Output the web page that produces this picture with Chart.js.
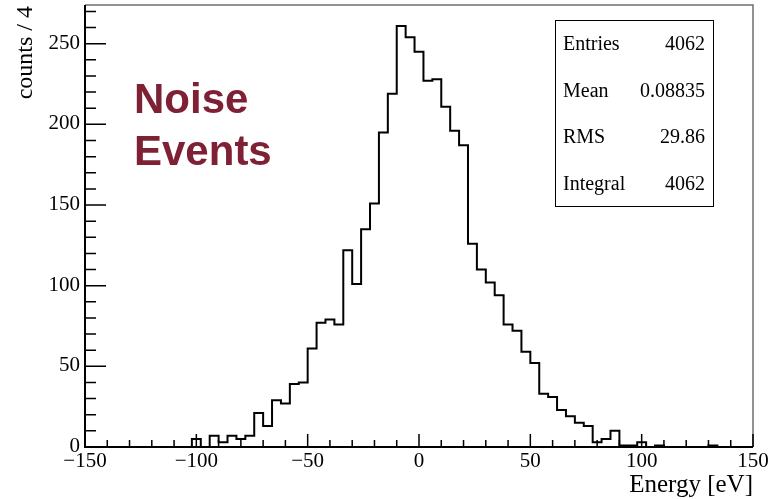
<!DOCTYPE html>
<html>
<head>
<meta charset="utf-8">
<script src="https://cdn.jsdelivr.net/npm/chart.js@4.4.1/dist/chart.umd.min.js"></script>
<style>
  html, body { margin: 0; padding: 0; background: #ffffff; }
  #wrap { width: 769px; height: 499px; position: relative; }
</style>
</head>
<body>
<div id="wrap"><canvas id="c" width="769" height="499"></canvas></div>
<script>
// ---- data (bin width 4 eV) ----
const binEdges = [
  -150,-146,-142,-138,-134,-130,-126,-122,-118,-114,-110,-106,-102,-98,-94,-90,-86,-82,-78,-74,
  -70,-66,-62,-58,-54,-50,-46,-42,-38,-34,-30,-26,-22,-18,-14,-10,-6,-2,2,6,
  10,14,18,22,26,30,34,38,42,46,50,54,58,62,66,70,74,78,82,86,
  90,94,98,102,106,110,114,118,122,126,130,134,138,142,146,150
];
const counts = [
  0,0,0,0,0,0,0,0,0,0,0,0,5,0,7,3,7,5,7,21,
  13,29,27,39,40,61,77,79,76,122,101,135,151,195,219,261,254,245,227,228,
  211,196,187,126,110,102,94,76,72,59,52,33,31,23,19,15,13,3,5,10,
  1,1,3,0,1,0,0,0,0,0,1,0,0,0,0
];
const xMajorTicks = [-150, -100, -50, 0, 50, 100, 150];
const yMajorTicks = [0, 50, 100, 150, 200, 250];
const xAxisTitle = 'Energy [eV]';
const yAxisTitle = 'counts / 4';
const statsLabels = ['Entries', 'Mean', 'RMS', 'Integral'];
const statsValues = ['4062', '0.08835', '29.86', '4062'];
const annotationLines = ['Noise', 'Events'];

// histogram points: each bin value starts at its left edge; last edge closes the outline
const points = counts.map((v, i) => ({ x: binEdges[i], y: v }));
points.push({ x: binEdges[binEdges.length - 1], y: 0 });

const SERIF = '"Liberation Serif", "DejaVu Serif", serif';
const minus = v => (v < 0 ? '\u2212' + Math.abs(v) : String(v));

const rootStyle = {
  id: 'rootStyle',
  afterDraw(chart) {
    const ctx = chart.ctx;
    const a = chart.chartArea;
    const xs = chart.scales.x, ys = chart.scales.y;
    ctx.save();

    // frame: top and right (thin grey), left and bottom axis (black)
    ctx.strokeStyle = '#6e6e6e';
    ctx.lineWidth = 1.5;
    ctx.beginPath();
    ctx.moveTo(a.left, a.top); ctx.lineTo(a.right, a.top); ctx.lineTo(a.right, a.bottom);
    ctx.stroke();
    ctx.strokeStyle = '#000';
    ctx.lineWidth = 2;
    ctx.beginPath();
    ctx.moveTo(a.left, a.top); ctx.lineTo(a.left, a.bottom); ctx.lineTo(a.right, a.bottom);
    ctx.stroke();

    // x ticks (inward)
    ctx.lineWidth = 1.5;
    ctx.beginPath();
    for (let v = xs.min; v <= xs.max + 1e-9; v += 10) {
      const px = xs.getPixelForValue(v);
      const len = (v % 50 === 0) ? 13 : 7;
      ctx.moveTo(px, a.bottom); ctx.lineTo(px, a.bottom - len);
    }
    // y ticks (inward)
    for (let v = 0; v <= ys.max + 1e-9; v += 10) {
      const py = ys.getPixelForValue(v);
      const len = (v % 50 === 0) ? 21 : 11;
      ctx.moveTo(a.left, py); ctx.lineTo(a.left + len, py);
    }
    ctx.stroke();

    // tick labels
    ctx.fillStyle = '#000';
    ctx.font = '21px ' + SERIF;
    ctx.textBaseline = 'alphabetic';
    ctx.textAlign = 'center';
    xMajorTicks.forEach(v => ctx.fillText(minus(v), xs.getPixelForValue(v), a.bottom + 20));
    ctx.textAlign = 'right';
    yMajorTicks.forEach(v => ctx.fillText(minus(v), a.left - 5, ys.getPixelForValue(v) + 5));

    // axis titles
    ctx.font = '25px ' + SERIF;
    ctx.textAlign = 'right';
    ctx.fillText(xAxisTitle, a.right, 492);
    ctx.save();
    ctx.translate(32, a.top + 1);
    ctx.rotate(-Math.PI / 2);
    ctx.font = '24px ' + SERIF;
    ctx.textAlign = 'right';
    ctx.fillText(yAxisTitle, 0, 0);
    ctx.restore();

    // stats box
    const bx = 555, by = 20, bw = 158, bh = 186;
    ctx.fillStyle = '#fff';
    ctx.fillRect(bx, by, bw, bh);
    ctx.strokeStyle = '#000';
    ctx.lineWidth = 1;
    ctx.strokeRect(bx + 0.5, by + 0.5, bw, bh);
    ctx.fillStyle = '#000';
    ctx.font = '20px ' + SERIF;
    statsLabels.forEach((lab, i) => {
      const yy = 50 + i * 46.5;
      ctx.textAlign = 'left';
      ctx.fillText(lab, bx + 8, yy);
      ctx.textAlign = 'right';
      ctx.fillText(statsValues[i], bx + bw - 8, yy);
    });

    // annotation
    ctx.fillStyle = '#7f2134';
    ctx.font = 'bold 42px "Liberation Sans", Arial, sans-serif';
    ctx.textAlign = 'left';
    annotationLines.forEach((t, i) => ctx.fillText(t, 134, 113 + i * 52));

    ctx.restore();
  }
};

new Chart(document.getElementById('c'), {
  type: 'line',
  data: {
    datasets: [{
      data: points,
      borderColor: '#000',
      borderWidth: 2,
      pointRadius: 0,
      stepped: 'before',
      fill: false,
      tension: 0
    }]
  },
  options: {
    responsive: false,
    animation: false,
    parsing: true,
    layout: { padding: { left: 85, top: 5, right: 16, bottom: 52 } },
    plugins: { legend: { display: false }, tooltip: { enabled: false } },
    scales: {
      x: { type: 'linear', min: -150, max: 150, display: false },
      y: { type: 'linear', min: 0, max: 274, display: false }
    }
  },
  plugins: [rootStyle]
});
</script>
</body>
</html>
